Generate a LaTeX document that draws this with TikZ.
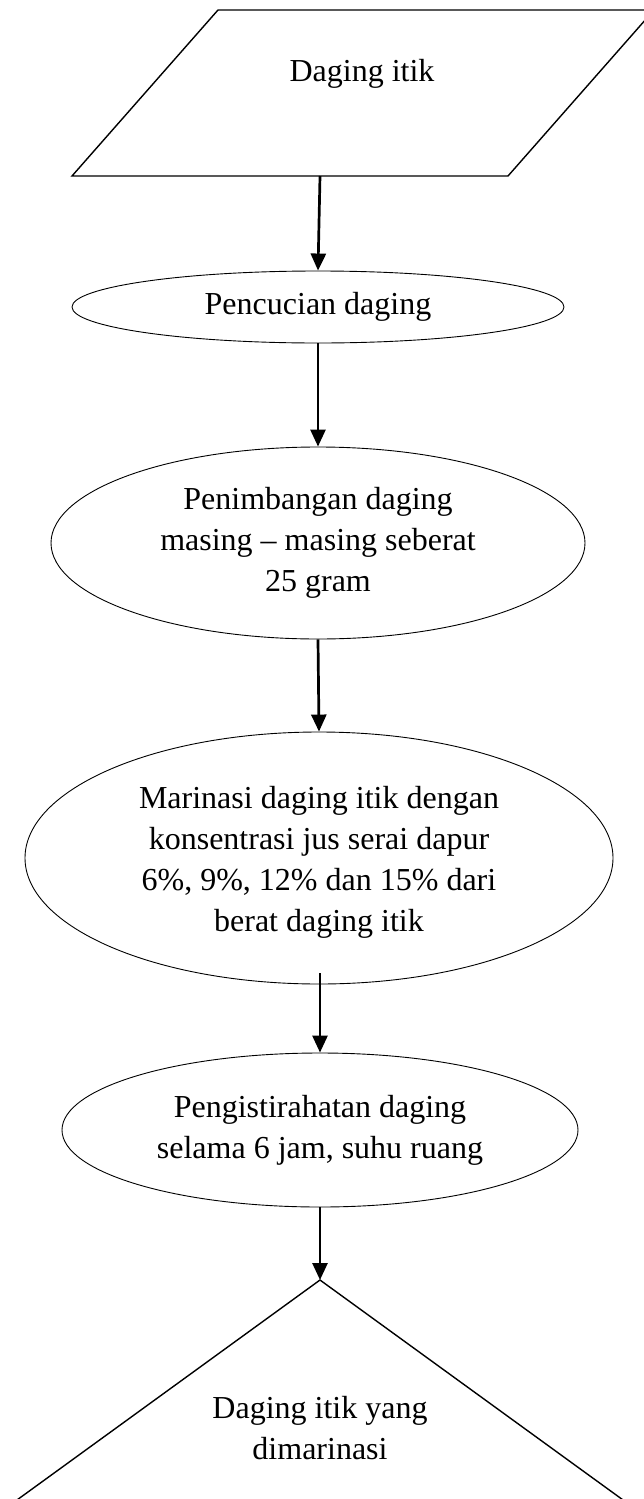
\documentclass[tikz,border=0pt]{standalone}
\usepackage{fontspec}
\setmainfont{Liberation Serif}
\usetikzlibrary{shapes.geometric,arrows.meta}
\begin{document}
\begin{tikzpicture}[x=1pt,y=-1pt,
  outline/.style={draw=black, line width=1.4pt},
  oval/.style={draw=black, line width=0.9pt, ellipse, inner sep=0pt},
  txt/.style={align=center, font=\fontsize{32}{41}\selectfont, inner sep=0pt},
  flow/.style={draw=black, line width=2.7pt, -{Triangle[width=15pt,length=17pt]}}]
\useasboundingbox (0,0) rectangle (644,1499);
% input (parallelogram)
\draw[outline] (218,10) -- (654,10) -- (508,176) -- (72,176) -- cycle;
\node[txt] (inputtxt) at (362,74) {Daging itik};
\coordinate (inbot) at (320,176);
% process ellipses
\node[oval, minimum width=492pt, minimum height=72pt] (wash) at (318,307) {};
\node[txt] (washtxt) at (wash.center) {Pencucian daging};
\node[oval, minimum width=534pt, minimum height=192pt] (weigh) at (318,543) {};
\node[txt] (weightxt) at (318,543) {Penimbangan daging\\masing -- masing seberat\\25 gram};
\node[oval, minimum width=588pt, minimum height=252pt] (marinate) at (319,858) {};
\node[txt] (marinatetxt) at (319,862) {Marinasi daging itik dengan\\konsentrasi jus serai dapur\\6\%, 9\%, 12\% dan 15\% dari\\berat daging itik};
\node[oval, minimum width=516pt, minimum height=154pt] (rest) at (320,1130) {};
\node[txt] (resttxt) at (320,1130) {Pengistirahatan daging\\selama 6 jam, suhu ruang};
% output (triangle)
\coordinate (apex) at (320,1280);
\draw[outline] (apex) -- (-12,1521) -- (652,1521) -- cycle;
\node[txt] (outtxt) at (320,1428) {Daging itik yang\\dimarinasi};
% connectors
\coordinate (m4) at (320,973);
\draw[flow] (inbot) -- (wash.north);
\draw[flow] (wash.south) -- (weigh.north);
\draw[flow] (weigh.south) -- (marinate.north);
\draw[flow] (m4) -- (rest.north);
\draw[flow] (rest.south) -- (apex);
\end{tikzpicture}
\end{document}
